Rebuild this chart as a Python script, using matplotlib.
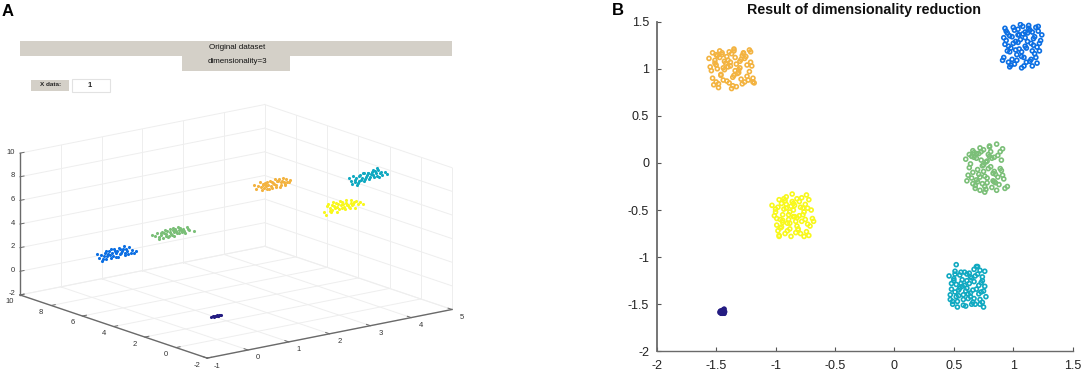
import matplotlib

matplotlib.use('Agg')

import matplotlib.pyplot as plt
from matplotlib.patches import Rectangle
from mpl_toolkits.mplot3d import proj3d

plt.rcParams['font.family'] = ['Liberation Sans', 'DejaVu Sans']
plt.rcParams['axes.unicode_minus'] = False

W, H = 1084, 373

# panel B, reduced data
orange_x = [-1.56,-1.53,-1.50,-1.47,-1.44,-1.41,-1.38,-1.35,-1.31,-1.27,
            -1.54,-1.51,-1.48,-1.45,-1.40,-1.37,-1.34,-1.30,-1.26,-1.22,
            -1.52,-1.49,-1.46,-1.42,-1.39,-1.36,-1.33,-1.29,-1.24,-1.19,
            -1.55,-1.50,-1.47,-1.43,-1.38,-1.35,-1.32,-1.28,-1.25,-1.20,
            -1.51,-1.48,-1.44,-1.41,-1.37,-1.34,-1.30,-1.27,-1.23,-1.18,
            -1.53,-1.49,-1.45,-1.40,-1.36,-1.33,-1.29,-1.26,-1.22,-1.21,
            -1.50,-1.46,-1.43,-1.39,-1.35,-1.31,-1.28,-1.24,-1.21,-1.19]
orange_y = [1.11,1.17,1.04,1.19,0.88,1.13,1.07,1.21,0.96,1.16,
            0.98,1.09,0.84,1.15,1.02,0.79,1.12,1.01,0.86,1.20,
            0.83,1.14,0.93,1.06,1.18,0.91,0.81,1.10,1.04,0.90,
            1.02,0.86,1.12,0.99,1.03,1.19,0.95,0.84,1.13,1.03,
            1.06,0.80,1.01,0.87,1.16,0.98,1.08,1.17,0.88,0.85,
            0.90,1.00,1.17,1.09,0.82,1.05,0.89,1.11,0.97,1.07,
            1.15,0.94,1.08,0.85,0.93,0.99,1.14,0.92,1.18,0.86]

blue_x = [0.92,0.95,0.98,1.01,1.04,1.07,1.10,1.13,1.17,1.21,
          0.93,0.96,0.99,1.03,1.06,1.09,1.12,1.15,1.19,1.24,
          0.91,0.94,0.97,1.00,1.05,1.08,1.11,1.14,1.18,1.22,
          0.94,0.97,1.02,1.04,1.07,1.10,1.13,1.16,1.20,1.23,
          0.92,0.96,0.99,1.02,1.06,1.09,1.12,1.16,1.18,1.22,
          0.95,0.98,1.01,1.03,1.05,1.08,1.11,1.15,1.19,1.21,
          0.93,0.97,1.00,1.04,1.07,1.10,1.14,1.17,1.20,1.16]
blue_y = [1.12,1.38,1.22,1.05,1.42,1.18,1.33,1.46,1.25,1.40,
          1.26,1.07,1.34,1.15,1.47,1.03,1.29,1.10,1.44,1.36,
          1.09,1.30,1.02,1.44,1.21,1.37,1.07,1.41,1.16,1.27,
          1.40,1.18,1.29,1.36,1.01,1.24,1.43,1.19,1.06,1.30,
          1.33,1.24,1.10,1.20,1.31,1.12,1.38,1.03,1.34,1.19,
          1.19,1.04,1.41,1.09,1.36,1.45,1.22,1.27,1.12,1.45,
          1.43,1.35,1.27,1.28,1.13,1.39,1.08,1.32,1.23,1.39]

green_x = [0.60,0.63,0.66,0.69,0.72,0.75,0.78,0.81,0.85,0.89,
           0.62,0.65,0.68,0.71,0.74,0.77,0.80,0.83,0.87,0.92,
           0.64,0.67,0.70,0.73,0.76,0.79,0.82,0.86,0.90,0.95,
           0.61,0.66,0.69,0.72,0.75,0.78,0.81,0.84,0.88,0.91,
           0.63,0.68,0.70,0.74,0.77,0.80,0.83,0.85,0.89,0.93,
           0.65,0.67,0.71,0.73,0.76,0.79,0.82,0.86,0.90,0.84,
           0.66,0.69,0.72,0.75,0.78,0.80,0.84,0.87,0.91,0.76]
green_y = [0.04,-0.05,0.13,-0.18,0.16,-0.09,0.02,0.12,-0.21,-0.06,
           -0.13,0.07,-0.24,0.10,-0.03,-0.28,0.17,-0.11,0.08,-0.17,
           -0.01,0.11,-0.20,0.03,-0.14,0.09,-0.26,0.20,-0.08,-0.25,
           -0.19,-0.10,0.05,-0.29,0.14,-0.16,-0.04,0.06,-0.23,0.15,
           0.09,-0.27,-0.07,-0.22,0.01,0.18,-0.19,-0.12,0.12,-0.27,
           -0.16,0.06,-0.12,0.12,-0.25,-0.06,0.05,-0.29,0.03,-0.20,
           -0.22,0.10,-0.15,-0.02,-0.21,0.07,-0.09,-0.15,-0.13,-0.31]

yellow_x = [-1.03,-1.00,-0.97,-0.94,-0.91,-0.88,-0.85,-0.82,-0.78,-0.74,
            -1.01,-0.98,-0.95,-0.92,-0.89,-0.86,-0.83,-0.80,-0.76,-0.72,
            -0.99,-0.96,-0.93,-0.90,-0.87,-0.84,-0.81,-0.77,-0.73,-0.69,
            -1.00,-0.97,-0.94,-0.91,-0.88,-0.85,-0.82,-0.79,-0.75,-0.71,
            -0.98,-0.95,-0.92,-0.89,-0.86,-0.83,-0.80,-0.78,-0.74,-0.70,
            -0.99,-0.96,-0.93,-0.90,-0.87,-0.84,-0.81,-0.77,-0.73,-0.72,
            -0.97,-0.94,-0.91,-0.88,-0.85,-0.82,-0.79,-0.76,-0.75,-0.68]
yellow_y = [-0.45,-0.52,-0.39,-0.61,-0.36,-0.70,-0.43,-0.58,-0.37,-0.34,
            -0.56,-0.47,-0.68,-0.40,-0.55,-0.33,-0.62,-0.41,-0.52,-0.39,
            -0.66,-0.60,-0.49,-0.72,-0.46,-0.57,-0.71,-0.48,-0.65,-0.59,
            -0.49,-0.77,-0.55,-0.48,-0.64,-0.50,-0.38,-0.75,-0.44,-0.67,
            -0.72,-0.43,-0.75,-0.60,-0.41,-0.74,-0.56,-0.62,-0.73,-0.50,
            -0.59,-0.69,-0.38,-0.64,-0.78,-0.45,-0.70,-0.55,-0.48,-0.77,
            -0.78,-0.63,-0.44,-0.52,-0.57,-0.67,-0.47,-0.78,-0.60,-0.62]

teal_x = [0.46,0.49,0.52,0.55,0.58,0.61,0.64,0.67,0.70,0.74,
          0.47,0.50,0.53,0.56,0.59,0.62,0.65,0.68,0.72,0.76,
          0.48,0.51,0.54,0.57,0.60,0.63,0.66,0.69,0.73,0.75,
          0.49,0.52,0.55,0.58,0.61,0.64,0.67,0.71,0.74,0.77,
          0.47,0.51,0.53,0.57,0.60,0.63,0.66,0.70,0.72,0.75,
          0.50,0.52,0.56,0.59,0.62,0.65,0.68,0.71,0.73,0.76,
          0.48,0.54,0.51,0.58,0.61,0.64,0.67,0.69,0.74,0.72]
teal_y = [-1.20,-1.47,-1.08,-1.33,-1.51,-1.18,-1.38,-1.26,-1.10,-1.48,
          -1.40,-1.25,-1.53,-1.16,-1.30,-1.44,-1.22,-1.50,-1.14,-1.31,
          -1.34,-1.15,-1.41,-1.24,-1.36,-1.17,-1.48,-1.34,-1.27,-1.53,
          -1.50,-1.29,-1.19,-1.45,-1.25,-1.42,-1.13,-1.39,-1.21,-1.42,
          -1.45,-1.37,-1.47,-1.31,-1.52,-1.28,-1.35,-1.18,-1.45,-1.36,
          -1.23,-1.42,-1.28,-1.16,-1.39,-1.50,-1.20,-1.30,-1.37,-1.15,
          -1.28,-1.35,-1.18,-1.40,-1.33,-1.21,-1.44,-1.10,-1.25,-1.50]

navy_x = [-1.47,-1.465,-1.46,-1.455,-1.45,-1.445,-1.44,-1.435,-1.43,-1.425,
          -1.47,-1.46,-1.455,-1.45,-1.44,-1.435,-1.43,-1.435,-1.43,-1.45]
navy_y = [-1.58,-1.57,-1.60,-1.57,-1.60,-1.56,-1.59,-1.56,-1.60,-1.58,
          -1.59,-1.57,-1.58,-1.60,-1.57,-1.55,-1.58,-1.60,-1.55,-1.60]

# panel A, original data (x, z read per cluster, y one depth per cluster)
blue3_x = [0.50,0.55,0.60,0.66,0.70,0.75,0.80,0.84,0.88,0.92,
           0.96,1.00,1.04,1.08,1.12,1.16,1.20,1.24,1.28,1.33,
           0.62,0.68,0.73,0.78,0.83,0.90,0.94,0.98,1.02,1.06,
           1.10,1.14,1.18,1.22,1.26,1.36,1.42,1.47,0.86,0.72]
blue3_z = [0.85,0.55,0.75,0.35,0.85,0.50,0.90,0.28,0.70,1.00,
           0.35,0.80,1.05,0.45,0.75,1.10,0.30,0.65,0.95,0.40,
           0.20,0.60,0.30,0.70,0.55,0.45,0.85,0.60,0.25,0.90,
           0.55,0.85,0.50,0.80,0.35,0.65,0.30,0.50,1.10,1.00]
blue3_y = 9

green3_x = [1.10,1.16,1.22,1.27,1.32,1.36,1.40,1.44,1.48,1.52,
            1.56,1.60,1.64,1.68,1.72,1.76,1.80,1.85,1.90,1.96,
            1.30,1.38,1.46,1.50,1.54,1.58,1.62,1.66,1.70,1.74,
            1.78,1.83,1.88,1.42,2.00,2.12,1.25,1.94,1.34,1.60]
green3_z = [3.00,2.85,3.05,2.65,2.95,2.55,3.15,2.80,2.55,3.20,
            2.75,3.05,2.50,2.90,3.25,2.65,2.95,3.00,2.55,2.90,
            2.80,2.95,3.05,2.65,2.90,2.60,2.85,3.10,2.70,2.95,
            3.10,2.70,2.80,2.65,2.75,2.60,2.50,3.05,3.10,3.25]
green3_y = 7

orange3_x = [2.05,2.10,2.16,2.20,2.25,2.29,2.33,2.37,2.41,2.45,
             2.49,2.53,2.57,2.61,2.65,2.69,2.73,2.77,2.81,2.85,
             2.22,2.27,2.31,2.35,2.39,2.43,2.47,2.51,2.55,2.59,
             2.63,2.67,2.71,2.75,2.79,2.83,2.88,2.92,2.95,2.36]
orange3_z = [8.30,7.95,8.15,8.45,7.80,8.15,8.35,7.75,8.05,8.40,
             7.80,8.20,8.45,7.95,8.30,7.70,8.10,8.40,7.90,8.25,
             8.05,8.30,7.90,8.15,8.35,7.70,8.00,8.30,8.10,7.80,
             8.25,8.45,7.85,8.15,8.05,7.80,8.00,7.95,8.15,8.00]
orange3_y = 3

yellow3_x = [3.02,3.08,3.12,3.16,3.20,3.24,3.28,3.32,3.36,3.40,
             3.44,3.48,3.52,3.56,3.60,3.64,3.68,3.72,3.76,3.80,
             3.15,3.21,3.26,3.30,3.34,3.38,3.42,3.46,3.50,3.54,
             3.58,3.62,3.66,3.70,3.74,3.84,3.90,3.96,3.18,3.05]
yellow3_z = [6.30,6.70,6.85,6.25,6.70,6.95,6.40,6.10,6.75,6.95,
             6.35,6.65,6.15,6.95,6.50,6.20,6.80,6.45,6.10,6.70,
             6.50,6.30,6.60,6.80,6.45,6.25,6.55,6.85,6.35,6.70,
             6.50,6.25,6.60,6.40,6.65,6.35,6.50,6.30,6.15,6.00]
yellow3_y = 1

teal3_x = [3.62,3.67,3.72,3.76,3.80,3.84,3.88,3.92,3.96,4.00,
           4.04,4.08,4.12,4.16,4.20,4.24,4.28,4.32,4.36,4.40,
           3.70,3.78,3.86,3.90,3.94,3.98,4.02,4.06,4.10,4.14,
           4.18,4.22,4.26,4.30,4.34,4.38,4.44,4.50,4.56,3.82]
teal3_z = [8.75,8.45,8.80,8.30,8.65,8.15,8.75,8.40,8.90,8.20,
           8.55,8.85,8.30,8.70,9.05,8.40,8.70,9.10,8.35,8.75,
           8.20,8.50,8.35,8.80,8.55,8.95,8.35,8.65,8.80,8.50,
           8.90,8.55,8.85,8.40,8.95,8.60,8.40,8.65,8.45,8.05]
teal3_y = 1

navy3_x = [-0.13,-0.10,-0.07,-0.05,-0.02,0.01,0.04,0.06,0.08,0.11,-0.04,0.03]
navy3_y = [0.00,0.00,0.00,0.00,0.00,0.00,0.00,0.00,0.00,0.00,0.00,0.00]
navy3_z = [-0.03,0.04,-0.05,0.05,-0.03,0.06,-0.05,0.04,0.02,0.03,0.02,-0.02]

x3_ticks = [-1, 0, 1, 2, 3, 4, 5]
y3_ticks = [-2, 0, 2, 4, 6, 8, 10]
z3_ticks = [-2, 0, 2, 4, 6, 8, 10]

x_ticks = [-2, -1.5, -1, -0.5, 0, 0.5, 1, 1.5]
y_ticks = [-2, -1.5, -1, -0.5, 0, 0.5, 1, 1.5]
tick_labels = ['-2', '-1.5', '-1', '-0.5', '0', '0.5', '1', '1.5']

C_BLUE = '#0c6fe3'
C_GREEN = '#7bbf78'
C_ORANGE = '#f3b340'
C_YELLOW = '#f8f81c'
C_TEAL = '#10a9c1'
C_NAVY = '#241c82'
C_GRID = '#eeeeee'
C_AXIS = '#6a6a6a'
C_PANEL = '#d4d0c8'
C_LABEL = '#333333'

fig = plt.figure(figsize=(W / 100, H / 100), dpi=100)

# panel B
ax = fig.add_axes([656.7 / W, (H - 351.3) / H, 416 / W, 329.6 / H])
for xs, ys, c in [(orange_x, orange_y, C_ORANGE), (blue_x, blue_y, C_BLUE),
                  (green_x, green_y, C_GREEN), (yellow_x, yellow_y, C_YELLOW),
                  (teal_x, teal_y, C_TEAL)]:
    ax.scatter(xs, ys, s=8, facecolors='none', edgecolors=c, linewidths=1.2)
ax.scatter(navy_x, navy_y, s=6, facecolors='none', edgecolors=C_NAVY, linewidths=1.0)
ax.set_xlim(-2, 1.5)
ax.set_ylim(-2, 1.5)
ax.set_xticks(x_ticks, tick_labels)
ax.set_yticks(y_ticks, tick_labels)
ax.tick_params(direction='in', length=3, width=0.8, color='#555555', labelsize=9,
               labelcolor='#222222')
ax.tick_params(axis='x', pad=6.5)
ax.tick_params(axis='y', pad=5.5)
ax.spines['top'].set_visible(False)
ax.spines['right'].set_visible(False)
ax.spines['left'].set_color(C_AXIS)
ax.spines['left'].set_linewidth(1.3)
ax.spines['bottom'].set_color(C_AXIS)
ax.spines['bottom'].set_linewidth(1.0)

# panel A, 3d box
ax3 = fig.add_axes([6.8 / W, -87.5 / H, 446.3 / W, 446.3 / H], projection='3d', proj_type='ortho')
ax3.set_axis_off()
ax3.view_init(elev=15, azim=-127.5)
ax3.set_xlim(-1, 5)
ax3.set_ylim(-2, 10)
ax3.set_zlim(-2, 10)
ax3.set_box_aspect((309, 308, 147))


def line3(a, b, color=C_GRID, lw=0.7):
    ax3.plot([a[0], b[0]], [a[1], b[1]], [a[2], b[2]], color=color, lw=lw, zorder=1)


for t in x3_ticks:
    line3((t, -2, -2), (t, 10, -2))
    line3((t, 10, -2), (t, 10, 10))
for t in y3_ticks:
    line3((-1, t, -2), (5, t, -2))
    line3((5, t, -2), (5, t, 10))
for t in z3_ticks:
    line3((-1, 10, t), (5, 10, t))
    line3((5, -2, t), (5, 10, t))

line3((-1, 10, -2), (-1, 10, 10), C_AXIS, 1.0)
line3((-1, -2, -2), (-1, 10, -2), C_AXIS, 1.0)
line3((-1, -2, -2), (5, -2, -2), C_AXIS, 1.0)

for t in x3_ticks:
    line3((t, -2, -2), (t, -1.75, -2), C_AXIS, 0.7)
for t in y3_ticks:
    line3((-1, t, -2), (-0.9, t, -2), C_AXIS, 0.7)
for t in z3_ticks:
    line3((-1, 10, t), (-0.9, 10, t), C_AXIS, 0.7)

for xs, y0, zs, c in [(blue3_x, blue3_y, blue3_z, C_BLUE), (green3_x, green3_y, green3_z, C_GREEN),
                      (orange3_x, orange3_y, orange3_z, C_ORANGE), (yellow3_x, yellow3_y, yellow3_z, C_YELLOW),
                      (teal3_x, teal3_y, teal3_z, C_TEAL)]:
    ax3.scatter(xs, [y0] * len(xs), zs, s=5, color=c, linewidths=0, depthshade=False, zorder=3)
ax3.scatter(navy3_x, navy3_y, navy3_z, s=5, color=C_NAVY, linewidths=0, depthshade=False, zorder=3)

# everything flat on top, in pixels from the top left
ui = fig.add_axes([0, 0, 1, 1], facecolor='none')
ui.set_xlim(0, W)
ui.set_ylim(H, 0)
ui.set_axis_off()


def label3(x, y, z, text, dx, dy, ha='center'):
    # tick labels of the 3d box, placed next to the projected tick
    ax3.apply_aspect()
    X, Y, _ = proj3d.proj_transform(x, y, z, ax3.get_proj())
    px, py = ax3.transData.transform((X, Y))
    ui.text(px + dx, H - py + dy, text, fontsize=5.5, color=C_LABEL, ha=ha, va='center')


for t in x3_ticks:
    label3(t, -2, -2, str(t), 10, 8)
for t in y3_ticks:
    label3(-1, t, -2, str(t), -10, 7)
for t in z3_ticks:
    label3(-1, 10, t, str(t), -5, -1, ha='right')

ui.add_patch(Rectangle((20, 41), 432, 15, color=C_PANEL, lw=0))
ui.add_patch(Rectangle((182, 56), 108, 15, color=C_PANEL, lw=0))
ui.add_patch(Rectangle((31, 80), 38, 10.5, color=C_PANEL, lw=0))
ui.add_patch(Rectangle((72, 78.5), 38, 13.5, facecolor='white', edgecolor='#e2e2e2', lw=0.8))
ui.text(237, 47.5, 'Original dataset', fontsize=5.8, ha='center', va='center', color='#111111')
ui.text(237, 61.5, 'dimensionality=3', fontsize=5.8, ha='center', va='center', color='#111111')
ui.text(51, 84, 'X data:', fontsize=4.6, fontweight='bold', ha='center', va='center', color='#222222')
ui.text(90, 85.5, '1', fontsize=5.5, fontweight='bold', ha='center', va='center', color='#222222')
ui.text(8, 11, 'A', fontsize=12, fontweight='bold', ha='center', va='center')
ui.text(618, 10.5, 'B', fontsize=12, fontweight='bold', ha='center', va='center')
ui.text(864, 10, 'Result of dimensionality reduction', fontsize=10.3, fontweight='bold',
        ha='center', va='center', color='#111111')

fig.savefig('out.png', dpi=100)
